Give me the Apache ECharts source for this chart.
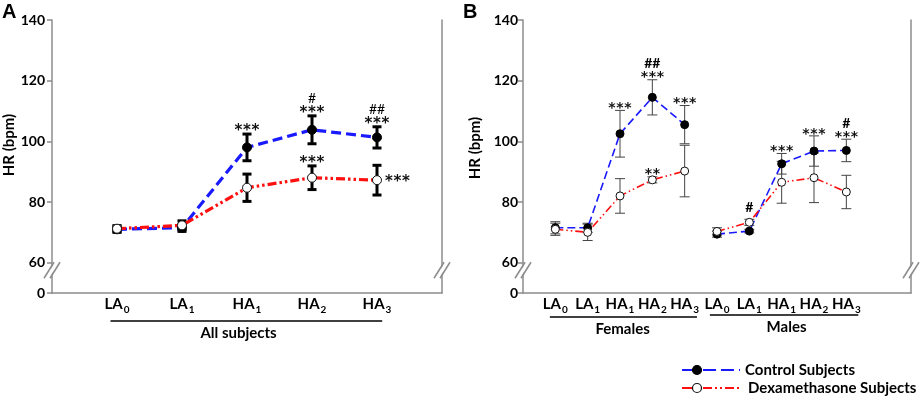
<!DOCTYPE html>
<html><head><meta charset="utf-8">
<script src="https://cdn.jsdelivr.net/npm/echarts@6/dist/echarts.min.js"></script>
<style>html,body{margin:0;padding:0;background:#fff}#c{width:920px;height:397px}</style>
</head><body><div id="c"></div>
<script>
// ---------- data ----------
const yTicks = [0, 60, 80, 100, 120, 140];
const catsA = ['LA0', 'LA1', 'HA1', 'HA2', 'HA3'];
const catsB = ['LA0', 'LA1', 'HA1', 'HA2', 'HA3', 'LA0', 'LA1', 'HA1', 'HA2', 'HA3'];
const groupA = ['All subjects'];
const groupsB = ['Females', 'Males'];
const seriesNames = ['Control Subjects', 'Dexamethasone Subjects'];

const ctrlA    = [71.0, 71.5, 98.0, 103.8, 101.3];
const ctrlAErr = [1.0, 1.2, 4.4, 4.6, 3.5];
const dexA     = [71.2, 72.3, 84.7, 88.0, 87.2];
const dexAErr  = [1.0, 1.5, 4.5, 3.9, 4.9];

const ctrlB    = [71.5, 71.5, 102.5, 114.5, 105.5, 69.4, 70.4, 92.6, 96.8, 97.0];
const ctrlBErr = [2.0, 1.5, 7.7, 5.8, 6.3, 1.0, 0.6, 3.4, 5.0, 3.7];
const dexB     = [71.0, 70.0, 82.0, 87.3, 90.2, 70.3, 73.3, 86.5, 88.0, 83.3];
const dexBErr  = [2.0, 2.7, 5.7, 1.0, 8.5, 1.2, 1.0, 6.9, 8.2, 5.5];

// significance marks: [stars, hashes]
const annCtrlA = [['', ''], ['', ''], ['***', ''], ['***', '#'], ['***', '##']];
const annDexA  = [['', ''], ['', ''], ['', ''], ['***', ''], ['', '']];
const annDexARight = ['', '', '', '', '***'];
const annCtrlB = [['', ''], ['', ''], ['***', ''], ['***', '##'], ['***', ''],
                  ['', ''], ['', ''], ['***', ''], ['***', ''], ['***', '#']];
const annDexB  = [['', ''], ['', ''], ['', ''], ['**', ''], ['', ''],
                  ['', ''], ['', '#'], ['', ''], ['', ''], ['', '']];

// ---------- helpers ----------
const disp = v => v >= 60 ? v - 50 : v / 6;          // broken-axis mapping
const undisp = d => d >= 10 ? d + 50 : Math.round(d * 6);
const xsA = catsA.map((_, i) => i + 1);
const xsB = catsB.map((_, i) => i + 1);
const FONT = 'Lato';
const AXC = '#8c8c8c';
const BLUE = '#1a1aff', RED = '#ff1010';

const rich = {
  m: {fontFamily: FONT, fontWeight: 'bold', fontSize: 15, color: '#000', lineHeight: 16, verticalAlign: 'top'},
  s: {fontFamily: FONT, fontWeight: 'bold', fontSize: 10, color: '#000', lineHeight: 10, verticalAlign: 'top', padding: [8, 0, 0, 1]}
};
const catFmt = c => '{m|' + c.slice(0, -1) + '}{s|' + c.slice(-1) + '}';

function yAx(gi, side, margin) {
  return {
    type: 'value', gridIndex: gi, position: side, min: 0, max: 90, interval: 10,
    axisLine: {show: true, lineStyle: {color: AXC, width: 1.5}},
    axisTick: {show: side === 'left', length: 5, customValues: yTicks.map(disp), lineStyle: {color: AXC, width: 1.5}},
    axisLabel: {show: side === 'left', customValues: yTicks.map(disp), formatter: v => String(undisp(v)),
      margin: margin, fontFamily: FONT, fontWeight: 'bold', fontSize: 14, color: '#000'},
    splitLine: {show: false}
  };
}
function xAx(gi, max, cats) {
  return {
    type: 'value', gridIndex: gi, min: 0, max: max,
    axisLine: {show: true, onZero: false, lineStyle: {color: AXC, width: 1.5}},
    axisTick: {show: false}, splitLine: {show: false},
    axisLabel: {customValues: cats.map((_, i) => i + 1), formatter: v => catFmt(cats[v - 1]), rich: rich, margin: 4}
  };
}

function lineSeries(xi, yi, xs, vals, ctrl, wide, seg) {
  const data = [];
  xs.forEach((x, i) => { if (!seg || (i >= seg[0] && i < seg[1])) data.push([x, disp(vals[i])]); });
  return {
    type: 'line', xAxisIndex: xi, yAxisIndex: yi, data: data, z: 4,
    symbol: 'circle', symbolSize: wide ? 9 : 8,
    itemStyle: ctrl ? {color: '#000', borderColor: '#000', borderWidth: 1} : {color: '#fff', borderColor: '#111', borderWidth: 1},
    lineStyle: ctrl ? {color: BLUE, width: wide ? 3.2 : 1.6, type: wide ? [10, 5] : [8, 4]}
                    : {color: RED, width: wide ? 3.2 : 1.6, type: wide ? [9, 3, 2.5, 3, 2.5, 3] : [8, 3, 1.5, 3, 1.5, 3]},
    emphasis: {disabled: true}, silent: true
  };
}

function errSeries(xi, yi, xs, vals, errs, wide) {
  return {
    type: 'custom', xAxisIndex: xi, yAxisIndex: yi, z: 2, silent: true,
    data: xs.map((x, i) => [x, vals[i], errs[i]]),
    renderItem: function (params, api) {
      const x = api.value(0), v = api.value(1), e = api.value(2);
      const t = api.coord([x, disp(v + e)]), b = api.coord([x, disp(v - e)]);
      const hw = wide ? 4.5 : 5;
      const st = {stroke: wide ? '#000' : '#444', lineWidth: wide ? 3 : 1};
      return {type: 'group', children: [
        {type: 'line', shape: {x1: t[0], y1: t[1], x2: b[0], y2: b[1]}, style: st},
        {type: 'line', shape: {x1: t[0] - hw, y1: t[1], x2: t[0] + hw, y2: t[1]}, style: st},
        {type: 'line', shape: {x1: b[0] - hw, y1: b[1], x2: b[0] + hw, y2: b[1]}, style: st}
      ]};
    }
  };
}

// asterisks drawn one by one so that they keep the wide spacing of the reference
function stars(ch, n, cx, cy, pitch, size, alignLeft) {
  for (let j = 0; j < n; j++) {
    const x = alignLeft ? cx + j * pitch : cx + (j - (n - 1) / 2) * pitch;
    ch.push({type: 'text', x: x, y: cy, style: {text: '*', fontFamily: 'DejaVu Sans', fontWeight: 'bold', fontSize: size,
      fill: '#111', align: 'center', verticalAlign: 'middle'}});
  }
}

function annSeries(xi, yi, xs, vals, errs, anns, big) {
  return {
    type: 'custom', xAxisIndex: xi, yAxisIndex: yi, z: 5, silent: true,
    data: xs.map((x, i) => [x, vals[i], errs[i]]),
    renderItem: function (params, api) {
      const a = anns[params.dataIndex];
      const x = api.value(0), v = api.value(1), e = api.value(2);
      const t = api.coord([x, disp(v + e)]);
      const ch = [];
      let y = t[1];
      if (a[0]) {
        y = y - (big ? 3 : 2);
        stars(ch, a[0].length, t[0], y, big ? 8.5 : 8, big ? 15 : 14, false);
        y = y - (big ? 14 : 14);
      } else {
        y = y - 12;
      }
      if (a[1]) {
        ch.push({type: 'text', x: t[0], y: y, style: {text: a[1], fontFamily: FONT, fontWeight: big ? 'normal' : 'bold', fontSize: big ? 14 : 14,
          fill: '#000', align: 'center', verticalAlign: 'middle'}});
      }
      return {type: 'group', children: ch};
    }
  };
}

function sideAnnSeries(xi, yi, xs, vals, anns) {
  return {
    type: 'custom', xAxisIndex: xi, yAxisIndex: yi, z: 5, silent: true,
    data: xs.map((x, i) => [x, vals[i]]),
    renderItem: function (params, api) {
      const a = anns[params.dataIndex];
      if (!a) return null;
      const p = api.coord([api.value(0), disp(api.value(1))]);
      const ch = [];
      stars(ch, a.length, p[0] + 12, p[1] + 2, 8.5, 15, true);
      return {type: 'group', children: ch};
    }
  };
}

const chart = echarts.init(document.getElementById('c'), null, {renderer: 'canvas'});
chart.setOption({
  animation: false,
  backgroundColor: '#fff',
  grid: [
    {left: 52, top: 20, width: 390, height: 273},
    {left: 523, top: 20, width: 388, height: 273}
  ],
  xAxis: [xAx(0, 6, catsA), xAx(1, 12, catsB)],
  yAxis: [yAx(0, 'left', 7), yAx(0, 'right', 7), yAx(1, 'left', 5), yAx(1, 'right', 5)],
  series: [
    errSeries(0, 0, xsA, ctrlA, ctrlAErr, true),
    errSeries(0, 0, xsA, dexA, dexAErr, true),
    lineSeries(0, 0, xsA, ctrlA, true, true),
    lineSeries(0, 0, xsA, dexA, false, true),
    annSeries(0, 0, xsA, ctrlA, ctrlAErr, annCtrlA, true),
    annSeries(0, 0, xsA, dexA, dexAErr, annDexA, true),
    sideAnnSeries(0, 0, xsA, dexA, annDexARight),

    errSeries(1, 2, xsB, ctrlB, ctrlBErr, false),
    errSeries(1, 2, xsB, dexB, dexBErr, false),
    lineSeries(1, 2, xsB, ctrlB, true, false, [0, 5]),
    lineSeries(1, 2, xsB, ctrlB, true, false, [5, 10]),
    lineSeries(1, 2, xsB, dexB, false, false, [0, 5]),
    lineSeries(1, 2, xsB, dexB, false, false, [5, 10]),
    annSeries(1, 2, xsB, ctrlB, ctrlBErr, annCtrlB, false),
    annSeries(1, 2, xsB, dexB, dexBErr, annDexB, false)
  ]
});

// ---------- decorations (broken axis, group labels, legend) ----------
function px(gi, x, d) { return chart.convertToPixel({gridIndex: gi}, [x, d]); }
const g = [];
function brk(p) {
  const cx = p[0], cy = p[1];
  g.push({type: 'polygon', shape: {points: [[cx - 7, cy + 8], [cx + 3, cy - 8], [cx + 7, cy - 8], [cx - 3, cy + 8]]},
    style: {fill: '#fff'}, z: 10});
  g.push({type: 'line', shape: {x1: cx - 8, y1: cy + 8, x2: cx + 2, y2: cy - 8}, style: {stroke: AXC, lineWidth: 1.5}, z: 11});
  g.push({type: 'line', shape: {x1: cx - 2, y1: cy + 8, x2: cx + 8, y2: cy - 8}, style: {stroke: AXC, lineWidth: 1.5}, z: 11});
}
brk(px(0, 0, 7.5)); brk(px(0, 6, 7.5));
brk(px(1, 0, 7.5)); brk(px(1, 12, 7.5));

function group(gi, x1, x2, ly, label, tx, ty) {
  const a = px(gi, x1, 0), b = px(gi, x2, 0);
  g.push({type: 'line', shape: {x1: a[0], y1: ly, x2: b[0], y2: ly}, style: {stroke: '#000', lineWidth: 1.5}});
  g.push({type: 'text', x: px(gi, tx, 0)[0], y: ty, style: {text: label, fontFamily: FONT, fontWeight: 'bold', fontSize: 15,
    fill: '#000', align: 'center', verticalAlign: 'middle'}});
}
group(0, 0.90, 5.08, 321, groupA[0], 2.87, 333);
group(1, 0.83, 5.38, 317, groupsB[0], 3.08, 329);
group(1, 5.78, 10.37, 315, groupsB[1], 8.15, 327);

// axis titles & panel letters
[[9, 145], [475, 148]].forEach(p => g.push({type: 'text', x: p[0], y: p[1], rotation: Math.PI / 2,
  style: {text: 'HR (bpm)', fontFamily: FONT, fontWeight: 'bold', fontSize: 15, fill: '#000', align: 'center', verticalAlign: 'middle'}}));
g.push({type: 'text', x: 2, y: 12, style: {text: 'A', fontFamily: 'Liberation Sans', fontWeight: 'bold', fontSize: 20, fill: '#000', verticalAlign: 'middle'}});
g.push({type: 'text', x: 463, y: 12, style: {text: 'B', fontFamily: 'Liberation Sans', fontWeight: 'bold', fontSize: 20, fill: '#000', verticalAlign: 'middle'}});

// legend
function legendRow(y, ctrl, label, tx) {
  g.push({type: 'line', shape: {x1: 682, y1: y, x2: 692, y2: y}, style: {stroke: ctrl ? BLUE : RED, lineWidth: 2}});
  g.push({type: 'line', shape: {x1: 703, y1: y, x2: 740, y2: y},
    style: {stroke: ctrl ? BLUE : RED, lineWidth: 2, lineDash: ctrl ? [13, 5] : [9, 3, 2, 3, 2, 3]}});
  g.push({type: 'circle', shape: {cx: 697, cy: y, r: 4.5},
    style: {fill: ctrl ? '#000' : '#fff', stroke: ctrl ? '#000' : '#111', lineWidth: 1.2}});
  g.push({type: 'text', x: tx, y: y, style: {text: label, fontFamily: FONT, fontWeight: 'bold', fontSize: 15,
    fill: '#000', verticalAlign: 'middle'}});
}
legendRow(370, true, seriesNames[0], 745);
legendRow(388, false, seriesNames[1], 748);

chart.setOption({graphic: g});
</script></body></html>
